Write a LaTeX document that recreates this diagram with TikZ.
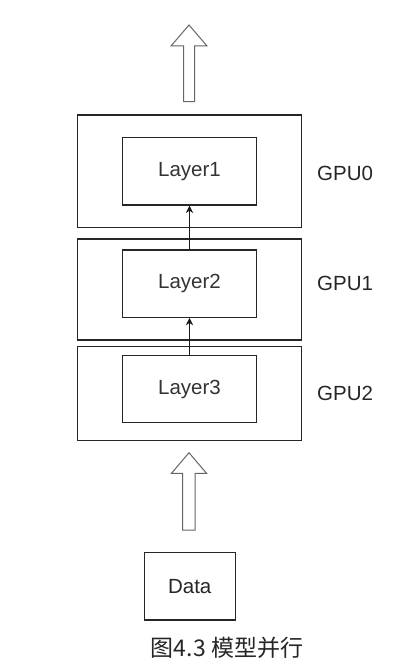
\documentclass[tikz,border=0pt]{standalone}
\usepackage{fontspec}
\setmainfont{Liberation Sans}
\newfontfamily\cjk{Noto Sans CJK SC}
\usetikzlibrary{arrows.meta}
\begin{document}
\begin{tikzpicture}[x=1pt,y=-1pt,
 outerbox/.style={draw=black!85, line width=1.1pt, minimum width=224.4pt, inner sep=0pt},
 innerbox/.style={draw=black!85, line width=1.1pt, minimum width=134.4pt, inner sep=0pt, font=\fontsize{20.5}{24}\selectfont, text=black!80},
 gpulbl/.style={anchor=west, inner sep=0pt, font=\fontsize{20.5}{24}\selectfont, text=black!85},
 hollow/.style={draw=black!60, line width=1pt, fill=white, line join=miter},
 link/.style={-{Stealth[length=7.5pt,width=7.5pt]}, line width=1pt, draw=black!90}]
\useasboundingbox (0,0) rectangle (417,666);
% GPU boxes
\node[outerbox, minimum height=112.3pt] (g0) at (189.5,171.15) {};
\node[outerbox, minimum height=101pt] (g1) at (189.5,289.5) {};
\node[outerbox, minimum height=94pt] (g2) at (189.5,393.7) {};
% layers
\node[innerbox, minimum height=67.3pt] (l1) at (189.5,171.35) {Layer1};
\node[innerbox, minimum height=67.3pt] (l2) at (189.5,283.65) {Layer2};
\node[innerbox, minimum height=66.6pt] (l3) at (189.5,389) {Layer3};
% labels
\node[gpulbl] (t0) at (317,173) {GPU0};
\node[gpulbl] (t1) at (317,283) {GPU1};
\node[gpulbl] (t2) at (317,393) {GPU2};
% links
\draw[link] (l2.north) -- (l1.south);
\draw[link] (l3.north) -- (l2.south);
% data
\node[draw=black!85, line width=1.1pt, minimum width=90.7pt, minimum height=67.3pt, inner sep=0pt, font=\fontsize{20.5}{24}\selectfont, text=black!85] (data) at (189.7,586.3) {Data};
% hollow arrows
\draw[hollow] (183.5,101.7) -- (183.5,46) -- (171,46) -- (189,25) -- (207,46) -- (194.5,46) -- (194.5,101.7) -- cycle;
\draw[hollow] (182.5,530) -- (182.5,473.3) -- (171.5,473.3) -- (189,452.7) -- (206.5,473.3) -- (195,473.3) -- (195,530) -- cycle;
% caption
\node[inner sep=0pt, font=\fontsize{23}{26}\selectfont, text=black!85] (cap) at (227,648) {\cjk 图4.3 模型并行};
\end{tikzpicture}
\end{document}
